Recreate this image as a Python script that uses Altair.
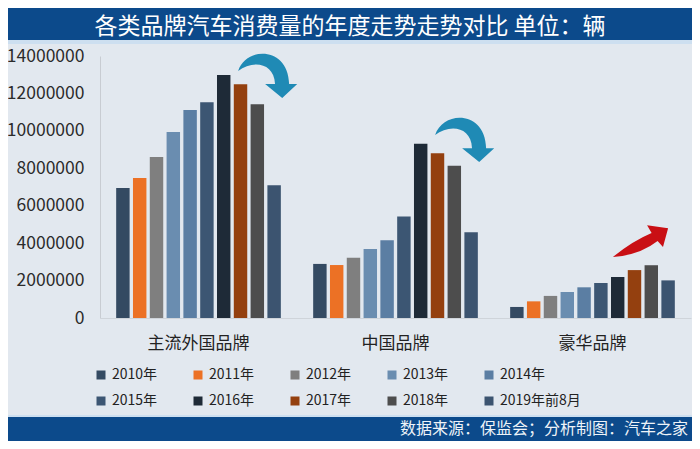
import altair as alt
import pandas as pd

# ---- data ----
brands = ["主流外国品牌", "中国品牌", "豪华品牌"]
years = ["2010年", "2011年", "2012年", "2013年", "2014年",
         "2015年", "2016年", "2017年", "2018年", "2019年前8月"]
foreign = [6950000, 7480000, 8600000, 9940000, 11110000, 11530000, 12980000, 12490000, 11420000, 7100000]
chinese = [2890000, 2830000, 3220000, 3690000, 4150000, 5430000, 9310000, 8800000, 8140000, 4580000]
luxury = [590000, 890000, 1180000, 1390000, 1640000, 1870000, 2190000, 2560000, 2820000, 2010000]
year_colors = ["#344a62", "#ec7125", "#7f7f7f", "#6a8db0", "#5b7ea3",
               "#3c5673", "#1e2a37", "#94400f", "#4d4d4d", "#3c5470"]
y_ticks = [0, 2000000, 4000000, 6000000, 8000000, 10000000, 12000000, 14000000]

title_text = "各类品牌汽车消费量的年度走势走势对比  单位：辆"
source_text = "数据来源：保监会；分析制图：汽车之家"

# annotation arrow anchors (category, year slot, value)
down_arrow_brand = ["主流外国品牌", "中国品牌"]
down_arrow_year = ["2019年前8月", "2019年前8月"]
down_arrow_value = [12930000, 9510000]
up_arrow_brand = ["豪华品牌"]
up_arrow_year = ["2017年"]
up_arrow_value = [4110000]

rows = []
for b, vals in zip(brands, [foreign, chinese, luxury]):
    for y, v in zip(years, vals):
        rows.append({"品牌": b, "年份": y, "数量": v})
df = pd.DataFrame(rows)

down_df = pd.DataFrame({"品牌": down_arrow_brand, "年份": down_arrow_year, "数量": down_arrow_value})
up_df = pd.DataFrame({"品牌": up_arrow_brand, "年份": up_arrow_year, "数量": up_arrow_value})
one = pd.DataFrame({"k": [0]})

FONT = "Noto Sans CJK SC"
W, H = 591, 262

x_enc = alt.X("品牌:N", sort=brands,
              scale=alt.Scale(paddingInner=0.147, paddingOuter=0.0736),
              axis=alt.Axis(title=None, labelAngle=0, labelFontSize=17, labelColor="#222222",
                            labelFont=FONT, ticks=False, domainColor="#cfd4da", labelPadding=17))
xo_enc = alt.XOffset("年份:N", sort=years, scale=alt.Scale(paddingInner=0.2, paddingOuter=0.1))
y_enc = alt.Y("数量:Q", scale=alt.Scale(domain=[0, 14000000], nice=False),
              axis=alt.Axis(title=None, values=y_ticks, format="d", labelFontSize=17.5,
                            labelColor="#2b2b2b", labelFont=FONT, ticks=False, grid=False,
                            labelOverlap=False, labelBound=False, labelFlush=False,
                            domainColor="#c8ccd2", labelPadding=16))

bars = alt.Chart(df).mark_bar().encode(
    x=x_enc, xOffset=xo_enc, y=y_enc,
    color=alt.Color("年份:N", sort=years,
                    scale=alt.Scale(domain=years, range=year_colors),
                    legend=alt.Legend(title=None, orient="none", legendX=-6, legendY=312,
                                      direction="horizontal", columns=5, columnPadding=33,
                                      rowPadding=12,
                                      symbolType="square", symbolSize=81, symbolStrokeWidth=0,
                                      labelFontSize=14, labelFont=FONT, labelColor="#222222",
                                      labelOffset=4, padding=0))
)

down_path = ("M -1.2 -0.17 C -0.93 -1 0.47 -1 0.5 0.27 L 0.77 0.27 L 0.27 0.73 "
             "L -0.3 0.27 L 0.03 0.27 C 0 -0.47 -0.73 -0.53 -1.2 -0.17 Z")
up_path = ("M -0.72 0.53 Q -0.07 0 0.57 -0.27 L 0.42 -0.53 L 1.12 -0.43 "
           "L 0.95 0.2 L 0.77 0 Q 0.17 0.47 -0.72 0.53 Z")

down_arrows = alt.Chart(down_df).mark_point(
    shape=down_path, size=3600, filled=True, fill="#1f8ab5", strokeWidth=0, opacity=1
).encode(x=x_enc, xOffset=xo_enc, y=y_enc)

up_arrows = alt.Chart(up_df).mark_point(
    shape=up_path, size=3600, filled=True, fill="#c90f14", strokeWidth=0, opacity=1
).encode(x=x_enc, xOffset=xo_enc, y=y_enc)

title_bar = alt.Chart(one).mark_rect(color="#0c4a8b").encode(
    x=alt.value(-92), x2=alt.value(592), y=alt.value(-48), y2=alt.value(-16))
title_strip = alt.Chart(one).mark_rect(color="#cddff0").encode(
    x=alt.value(-92), x2=alt.value(592), y=alt.value(-16), y2=alt.value(-12))
footer_bar = alt.Chart(one).mark_rect(color="#0c4a8b").encode(
    x=alt.value(-92), x2=alt.value(592), y=alt.value(361), y2=alt.value(385))
footer_strip = alt.Chart(one).mark_rect(color="#cddff0").encode(
    x=alt.value(-92), x2=alt.value(592), y=alt.value(359), y2=alt.value(361))

title = alt.Chart(one).mark_text(
    text=title_text, font=FONT, fontSize=23, color="#ffffff", align="center", baseline="middle"
).encode(x=alt.value(250), y=alt.value(-29))
source = alt.Chart(one).mark_text(
    text=source_text, font=FONT, fontSize=16, color="#eef3f8", align="right", baseline="middle"
).encode(x=alt.value(588), y=alt.value(373))

chart = alt.layer(
    title_bar, title_strip, footer_strip, footer_bar, bars, down_arrows, up_arrows, title, source
).properties(
    width=W, height=H,
    autosize=alt.AutoSizeParams(type="none"),
    padding={"left": 92, "top": 48, "right": 1, "bottom": 123},
    background="#e2e8ef",
).configure_view(stroke=None)

chart.save("out.html", embed_options={"renderer": "svg", "actions": False})
